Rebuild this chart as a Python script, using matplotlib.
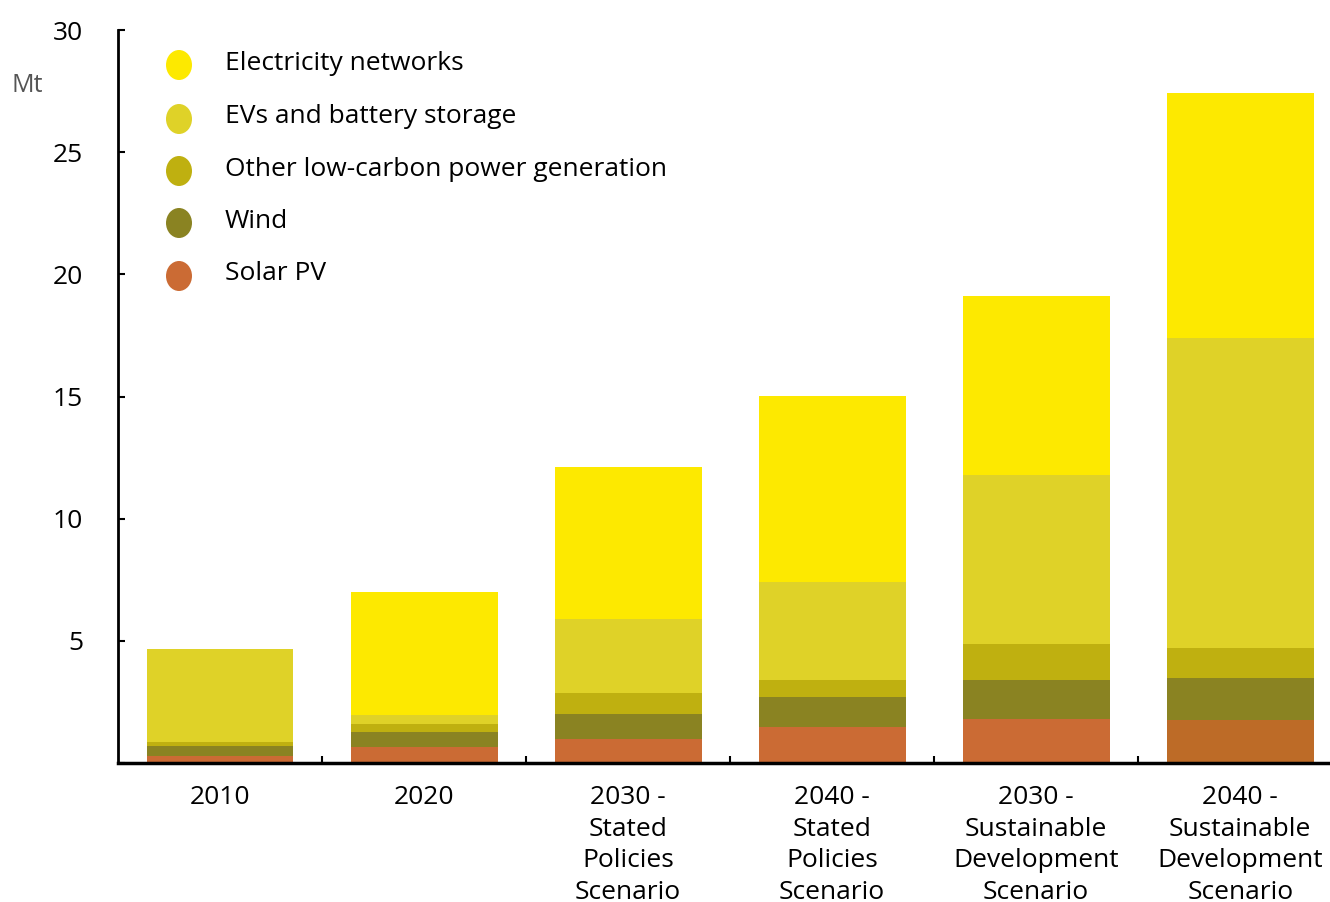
import matplotlib
matplotlib.use("Agg")
import matplotlib.pyplot as plt
from matplotlib.patches import Ellipse
import numpy as np

plt.rcParams['font.family'] = ['Open Sans', 'DejaVu Sans']

categories = ["2010", "2020", "2030 -\nStated\nPolicies\nScenario", "2040 -\nStated\nPolicies\nScenario",
              "2030 -\nSustainable\nDevelopment\nScenario", "2040 -\nSustainable\nDevelopment\nScenario"]
series_names = ["Solar PV", "Wind", "Other low-carbon power generation", "EVs and battery storage", "Electricity networks"]
solar = [0.30, 0.65, 0.98, 1.47, 1.79, 1.76]
wind = [0.40, 0.62, 1.02, 1.23, 1.61, 1.72]
other = [0.16, 0.33, 0.87, 0.70, 1.47, 1.23]
evs = [3.81, 0.36, 3.03, 4.00, 6.92, 12.69]
networks = [0.00, 5.04, 6.22, 7.62, 7.33, 10.03]
yticks = [0, 5, 10, 15, 20, 25, 30]

colors = ["#CB6B34", "#8A8322", "#BFB010", "#DFD228", "#FDE900"]
series = [solar, wind, other, evs, networks]

fig = plt.figure(figsize=(13.3, 9.02), dpi=100)
ax = fig.add_axes([118/1330, 139/902, 1212/1330, 733/902])

x = np.arange(len(categories))
bottom = np.zeros(len(categories))
for i, (name, vals, c) in enumerate(zip(series_names, series, colors)):
    vals = np.array(vals)
    bar_colors = [c] * len(vals)
    if i == 0:
        bar_colors[-1] = "#BD6B27"
    ax.bar(x, vals, width=0.72, bottom=bottom, color=bar_colors, edgecolor='none', label=name)
    bottom += vals

ax.set_xlim(-0.5, 5.44)
ax.set_ylim(0, 30)
ax.set_yticks(yticks)
ax.set_yticklabels(["" if t == 0 else str(t) for t in yticks])
ax.tick_params(axis='y', direction='in', length=5, width=1.5, labelsize=19, pad=25, colors='black')
ax.set_xticks(x)
ax.set_xticklabels(categories, fontsize=19, linespacing=1.34)
ax.tick_params(axis='x', which='major', length=0, pad=16)
ax.set_xticks(np.arange(0.5, 5.0, 1.0), minor=True)
ax.tick_params(axis='x', which='minor', direction='in', length=5, width=1.5)

for s in ['top', 'right']:
    ax.spines[s].set_visible(False)
ax.spines['left'].set_linewidth(2)
ax.spines['bottom'].set_linewidth(2.5)

fig.text(12/1330, 1 - 85/902, "Mt", fontsize=18, color='#555555', va='center', ha='left')

# legend
leg_y = [63, 117, 169, 221, 274]
leg_items = list(zip(series_names, colors))[::-1]
for (name, c), yy in zip(leg_items, leg_y):
    fig.patches.append(Ellipse((179/1330, 1 - (yy + 2)/902), 26/1330, 30/902, transform=fig.transFigure,
                               facecolor=c, edgecolor='none'))
    fig.text(225/1330, 1 - yy/902, name, fontsize=19, va='center', ha='left', color='black')

fig.savefig("out.png", dpi=100)
